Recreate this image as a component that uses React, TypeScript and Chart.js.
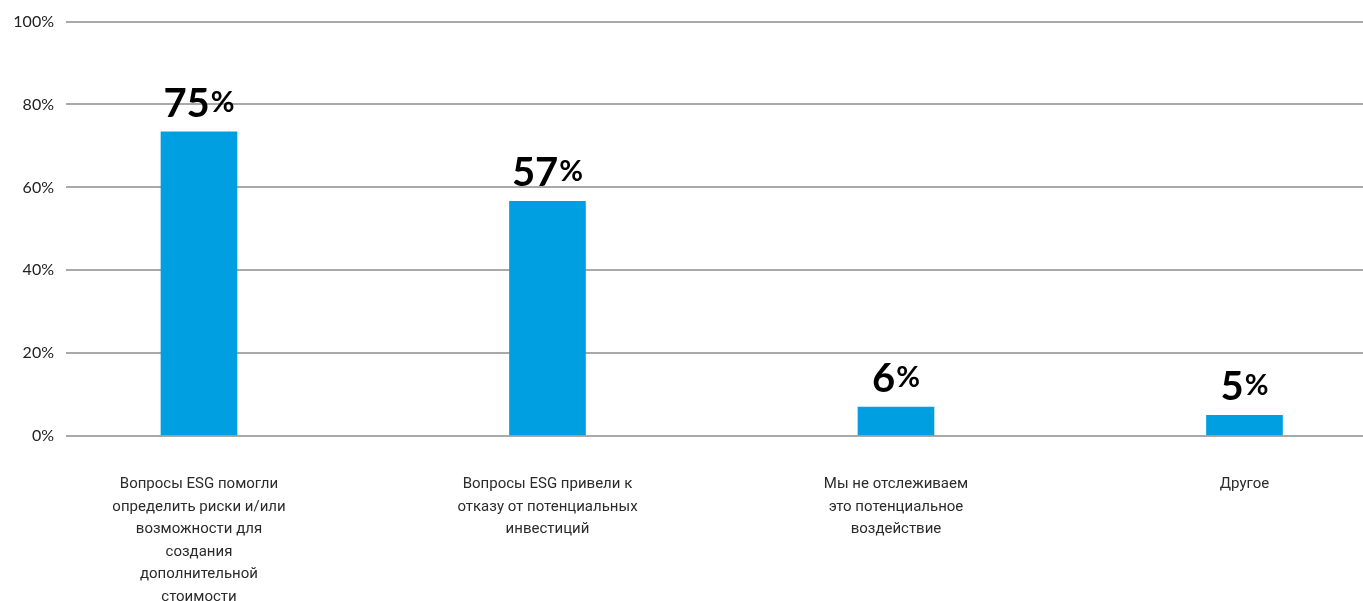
import React, { useEffect, useRef } from "react";
import { Chart, registerables } from "chart.js";

Chart.register(...registerables);

const categories: string[][] = [
  ["Вопросы ESG помогли", "определить риски и/или", "возможности для", "создания", "дополнительной", "стоимости"],
  ["Вопросы ESG привели к", "отказу от потенциальных", "инвестиций"],
  ["Мы не отслеживаем", "это потенциальное", "воздействие"],
  ["Другое"],
];
const values: number[] = [73.4, 56.6, 7, 5];
const valueLabels: string[] = ["75", "57", "6", "5"];
const yTickValues: number[] = [0, 20, 40, 60, 80, 100];

const BAR_COLOR = "#009fe1";
const GRID_COLOR = "#a9a9a9";

const labelPlugin = {
  id: "valueLabels",
  afterDatasetsDraw(chart: any) {
    const ctx = chart.ctx;
    const meta = chart.getDatasetMeta(0);
    meta.data.forEach((bar: any, i: number) => {
      const num = valueLabels[i];
      ctx.save();
      ctx.fillStyle = "#000";
      ctx.textBaseline = "alphabetic";
      ctx.textAlign = "left";
      const numFont = "bold 40px Lato";
      const pctFont = "bold 29px Lato";
      ctx.font = numFont;
      const wNum = ctx.measureText(num).width;
      ctx.font = pctFont;
      const wPct = ctx.measureText("%").width;
      const total = wNum + wPct + 1;
      const x0 = bar.x - total / 2;
      const y0 = bar.y - 15;
      ctx.font = numFont;
      ctx.fillText(num, x0, y0);
      ctx.font = pctFont;
      ctx.fillText("%", x0 + wNum + 1, y0 - 5);
      ctx.restore();
    });
  },
};

export default function App() {
  const ref = useRef<HTMLCanvasElement | null>(null);
  useEffect(() => {
    if (!ref.current) return;
    const chart = new Chart(ref.current, {
      type: "bar",
      data: {
        datasets: [
          {
            data: values.map((v, i) => ({ x: i, y: v })),
            backgroundColor: BAR_COLOR,
            barThickness: 76,
            borderWidth: 0,
          },
        ],
      },
      options: {
        animation: false,
        responsive: false,
        layout: { padding: { top: 19, left: 0, right: 0, bottom: 0 } },
        plugins: { legend: { display: false }, tooltip: { enabled: false } },
        scales: {
          x: {
            type: "linear",
            offset: false,
            min: -0.3816,
            max: 3.3401,
            grid: { display: false, offset: false },
            border: { display: false },
            afterFit: (s: any) => {
              s.height = 165;
            },
            afterBuildTicks: (s: any) => {
              s.ticks = categories.map((_, i) => ({ value: i }));
            },
            ticks: {
              autoSkip: false,
              maxRotation: 0,
              padding: 29,
              color: "#2b2b2b",
              font: { family: "Roboto", size: 15, lineHeight: 1.5 },
              callback: (v: any) => categories[Math.round(Number(v))] ?? "",
            },
          },
          y: {
            min: 0,
            max: 100,
            afterFit: (s: any) => {
              s.width = 66;
            },
            afterBuildTicks: (s: any) => {
              s.ticks = yTickValues.map((v) => ({ value: v }));
            },
            grid: { color: GRID_COLOR, lineWidth: 2, drawTicks: false },
            border: { display: false },
            ticks: {
              padding: 12,
              color: "#222",
              font: { family: "Lato", size: 16 },
              callback: (v: any) => v + "%",
            },
          },
        },
      },
      plugins: [labelPlugin],
    });
    return () => chart.destroy();
  }, []);
  return (
    <div style={{ position: "fixed", left: 0, top: 0, width: 1363, height: 601, background: "#fff" }}>
      <canvas ref={ref} width={1363} height={601} style={{ display: "block" }} />
    </div>
  );
}
